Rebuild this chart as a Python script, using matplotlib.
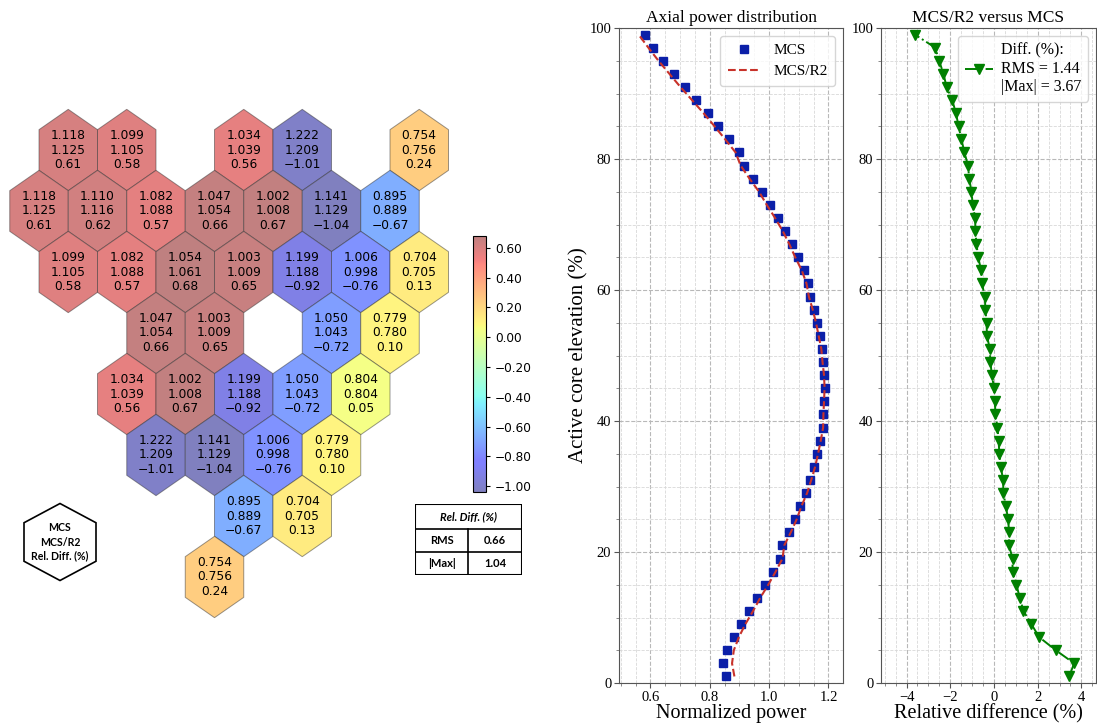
import numpy as np
import matplotlib
matplotlib.use("Agg")
import matplotlib.pyplot as plt
from matplotlib.patches import Polygon
from matplotlib import colors
from matplotlib.ticker import MultipleLocator

plt.rcParams['font.family'] = 'Liberation Serif'

# ---- radial power map (hex lattice: row index, half-pitch column index) ----
hex_row = [0, 0, 0, 0, 0,
           1, 1, 1, 1, 1, 1, 1,
           2, 2, 2, 2, 2, 2, 2,
           3, 3, 3, 3,
           4, 4, 4, 4, 4,
           5, 5, 5, 5,
           6, 6,
           7]
hex_col = [1, 3, 7, 9, 13,
           0, 2, 4, 6, 8, 10, 12,
           1, 3, 5, 7, 9, 11, 13,
           4, 6, 10, 12,
           3, 5, 7, 9, 11,
           4, 6, 8, 10,
           7, 9,
           6]
mcs_map = [1.118, 1.099, 1.034, 1.222, 0.754,
           1.118, 1.110, 1.082, 1.047, 1.002, 1.141, 0.895,
           1.099, 1.082, 1.054, 1.003, 1.199, 1.006, 0.704,
           1.047, 1.003, 1.050, 0.779,
           1.034, 1.002, 1.199, 1.050, 0.804,
           1.222, 1.141, 1.006, 0.779,
           0.895, 0.704,
           0.754]
r2_map = [1.125, 1.105, 1.039, 1.209, 0.756,
          1.125, 1.116, 1.088, 1.054, 1.008, 1.129, 0.889,
          1.105, 1.088, 1.061, 1.009, 1.188, 0.998, 0.705,
          1.054, 1.009, 1.043, 0.780,
          1.039, 1.008, 1.188, 1.043, 0.804,
          1.209, 1.129, 0.998, 0.780,
          0.889, 0.705,
          0.756]
diff_map = [0.61, 0.58, 0.56, -1.01, 0.24,
            0.61, 0.62, 0.57, 0.66, 0.67, -1.04, -0.67,
            0.58, 0.57, 0.68, 0.65, -0.92, -0.76, 0.13,
            0.66, 0.65, -0.72, 0.10,
            0.56, 0.67, -0.92, -0.72, 0.05,
            -1.01, -1.04, -0.76, 0.10,
            -0.67, 0.13,
            0.24]
map_rms = 0.66
map_max = 1.04
cbar_ticks = [-1.0, -0.8, -0.6, -0.4, -0.2, 0.0, 0.2, 0.4, 0.6]

# ---- axial profile ----
elev = np.arange(1, 100, 2)
mcs_axial = [0.854, 0.844, 0.857, 0.880, 0.905, 0.933, 0.959, 0.987, 1.013, 1.036,
             1.044, 1.066, 1.086, 1.103, 1.123, 1.137, 1.151, 1.162, 1.172, 1.180,
             1.182, 1.185, 1.187, 1.186, 1.182, 1.178, 1.171, 1.162, 1.151, 1.139,
             1.132, 1.117, 1.096, 1.077, 1.055, 1.029, 1.002, 0.976, 0.945, 0.915,
             0.899, 0.865, 0.829, 0.793, 0.754, 0.717, 0.680, 0.643, 0.609, 0.581]
r2_axial = [0.883, 0.875, 0.881, 0.898, 0.920, 0.946, 0.970, 0.997, 1.022, 1.045,
            1.051, 1.073, 1.093, 1.109, 1.128, 1.142, 1.155, 1.165, 1.174, 1.182,
            1.183, 1.185, 1.187, 1.185, 1.180, 1.176, 1.167, 1.158, 1.147, 1.134,
            1.126, 1.110, 1.088, 1.068, 1.046, 1.020, 0.992, 0.966, 0.934, 0.904,
            0.887, 0.852, 0.816, 0.779, 0.740, 0.701, 0.664, 0.627, 0.593, 0.560]
diff_axial = [3.44, 3.67, 2.83, 2.07, 1.71, 1.35, 1.18, 1.03, 0.85, 0.85,
              0.69, 0.69, 0.65, 0.54, 0.43, 0.42, 0.31, 0.25, 0.21, 0.16,
              0.07, 0.04, 0.01, -0.10, -0.16, -0.19, -0.32, -0.34, -0.39, -0.42,
              -0.55, -0.59, -0.72, -0.80, -0.85, -0.86, -0.97, -1.03, -1.13, -1.19,
              -1.35, -1.49, -1.62, -1.74, -1.91, -2.17, -2.31, -2.51, -2.69, -3.62]
axial_rms = 1.44
axial_max = 3.67


def hex_verts(cx, cy, hw, hh):
    return [(cx, cy - hh), (cx + hw, cy - hh / 2), (cx + hw, cy + hh / 2),
            (cx, cy + hh), (cx - hw, cy + hh / 2), (cx - hw, cy - hh / 2)]


def fmt(v, n):
    s = f"{v:.{n}f}"
    if float(s) == 0:
        s = s.lstrip('-')
    return s.replace('-', '\u2212')


fig = plt.figure(figsize=(10.97, 7.25), dpi=100)

# ======== HEX MAP ========
axh = fig.add_axes([0, 0, 460 / 1097, 1])
axh.set_xlim(-39 / 29.25, (460 - 39) / 29.25)
axh.set_ylim(575 / 61, -150 / 61)
axh.axis('off')

# jet washed out at half opacity over white
jet = plt.get_cmap('jet')(np.linspace(0, 1, 256))
jet[:, :3] = 0.5 * jet[:, :3] + 0.5
cmap = colors.ListedColormap(jet)
norm = colors.Normalize(vmin=min(diff_map), vmax=max(diff_map))

for r, c, a, b, d in zip(hex_row, hex_col, mcs_map, r2_map, diff_map):
    poly = Polygon(hex_verts(c, r, 1.0, 2 / 3), closed=True,
                   facecolor=cmap(norm(d)),
                   edgecolor=(0.2, 0.2, 0.2, 0.5), lw=0.7)
    axh.add_patch(poly)
    axh.text(c, r, f"{fmt(a, 3)}\n{fmt(b, 3)}\n{fmt(d, 2)}", ha='center', va='center',
             fontsize=8.8, family='DejaVu Sans', linespacing=1.15)

# key hexagon
kx, ky = (60 - 39) / 29.25, (542 - 150) / 61
axh.add_patch(Polygon(hex_verts(kx, ky, 36 / 29.25, 38.5 / 61), closed=True,
                      facecolor='white', edgecolor='black', lw=1.2))
axh.text(kx, ky, "MCS\nMCS/R2\nRel. Diff. (%)", ha='center', va='center',
         fontsize=7.6, family='Lato', fontweight='bold', linespacing=1.35)

# colorbar
cax = fig.add_axes([473 / 1097, (725 - 492) / 725, 13 / 1097, 256 / 725])
sm = plt.cm.ScalarMappable(norm=norm, cmap=cmap)
cb = fig.colorbar(sm, cax=cax, ticks=cbar_ticks)
cb.ax.yaxis.set_major_formatter(plt.FuncFormatter(lambda v, p: fmt(v, 2)))
cb.ax.tick_params(labelsize=8.7, length=3)
for t in cb.ax.get_yticklabels():
    t.set_family('DejaVu Sans')

# summary table
axt = fig.add_axes([415 / 1097, 150 / 725, 107 / 1097, 71 / 725])
axt.set_xlim(0, 1)
axt.set_ylim(0, 1)
axt.axis('off')
axt.add_patch(plt.Rectangle((0, 0), 1, 1, fill=False, lw=1.5, edgecolor='black'))
axt.plot([0, 1], [46 / 71, 46 / 71], color='black', lw=1.2)
axt.plot([0, 1], [23 / 71, 23 / 71], color='black', lw=1.2)
axt.plot([0.495, 0.495], [0, 46 / 71], color='black', lw=1.2)
tkw = dict(ha='center', va='center', fontsize=8, family='Lato', fontweight='bold')
axt.text(0.5, (1 + 46 / 71) / 2, "Rel. Diff. (%)", style='italic', **tkw)
axt.text(0.25, 34.5 / 71, "RMS", **tkw)
axt.text(0.75, 34.5 / 71, f"{map_rms:.2f}", **tkw)
axt.text(0.25, 11.5 / 71, "|Max|", **tkw)
axt.text(0.75, 11.5 / 71, f"{map_max:.2f}", **tkw)

# ======== AXIAL PROFILES ========
ax1 = fig.add_axes([619 / 1097, 42 / 725, 224 / 1097, 655 / 725])
ax2 = fig.add_axes([881 / 1097, 42 / 725, 215 / 1097, 655 / 725])

ax1.plot(mcs_axial, elev, 's', color='#0b1fa8', ms=6, label='MCS', zorder=3)
ax1.plot(r2_axial, elev, '--', color='#c8322a', lw=1.5, label='MCS/R2', zorder=4)
ax1.set_xlim(0.494, 1.249)
ax1.xaxis.set_major_locator(MultipleLocator(0.2))
ax1.xaxis.set_minor_locator(MultipleLocator(0.05))
ax1.set_xlabel("Normalized power", fontsize=14.5, labelpad=0)
ax1.set_ylabel("Active core elevation (%)", fontsize=15, labelpad=1)
ax1.set_title("Axial power distribution", fontsize=12.5, pad=4)
ax1.legend(loc='upper right', fontsize=11, handlelength=2.2, borderpad=0.5)

ax2.plot(diff_axial, elev, '-.', color='green', marker='v', ms=6.5, lw=1.4,
         label=f"Diff. (%):\nRMS = {axial_rms:.2f}\n|Max| = {axial_max:.2f}")
ax2.set_xlim(-5.17, 4.67)
ax2.xaxis.set_major_locator(MultipleLocator(2))
ax2.xaxis.set_minor_locator(MultipleLocator(0.5))
ax2.set_xlabel("Relative difference (%)", fontsize=14.5, labelpad=0)
ax2.set_title("MCS/R2 versus MCS", fontsize=12.5, pad=4)
leg2 = ax2.legend(loc='upper right', fontsize=11.5, handlelength=1.8, borderpad=0.4,
                  handletextpad=0.5)
for t in leg2.get_texts():
    t.set_multialignment('left')

for ax in (ax1, ax2):
    ax.set_ylim(0, 100)
    ax.yaxis.set_major_locator(MultipleLocator(20))
    ax.yaxis.set_minor_locator(MultipleLocator(5))
    ax.grid(True, which='major', ls='--', color='#b8b8b8', lw=0.8)
    ax.grid(True, which='minor', ls='--', color='#d8d8d8', lw=0.6)
    ax.set_axisbelow(True)
    ax.tick_params(labelsize=10.5, color='#555555', pad=2)
    ax.tick_params(which='minor', length=2, color='#777777')
    for sp in ax.spines.values():
        sp.set_color('#555555')

plt.savefig("out.png", dpi=100)
